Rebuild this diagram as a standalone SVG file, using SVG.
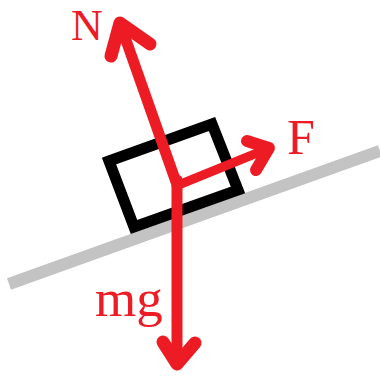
<svg xmlns="http://www.w3.org/2000/svg" width="380" height="377" viewBox="0 0 380 377">
<style>
.f{fill:none;stroke:#ed1c24;stroke-linecap:round;stroke-linejoin:round}
text{fill:#ed1c24;font-family:"Liberation Serif","Times New Roman",serif}
</style>
<rect width="380" height="377" fill="#fff"/>
<g id="incline"><path d="M9 284L380 151" fill="none" stroke="#c3c3c3" stroke-width="12"/></g>
<g id="block"><path d="M109 161L212 124L238 190L134 227Z" fill="none" stroke="#000" stroke-width="11" stroke-linejoin="miter"/></g>
<g id="connectors">
<path class="f" stroke-width="11" d="M176 182L121 26"/>
<path class="f" stroke-width="13" d="M111 56L120 23L150 44"/>
<path class="f" stroke-width="9" d="M176 186L262 151"/>
<path class="f" stroke-width="12" d="M247 141L269 148L256 170"/>
<path class="f" stroke-width="11" d="M177 180V360"/>
<path class="f" stroke-width="13" d="M163 342L177 364L195 343"/>
</g>
<g id="labels">
<text id="label-n" x="71" y="40" font-size="44">N</text>
<text id="label-f" x="287" y="154" font-size="50">F</text>
<text id="label-mg" x="95" y="316" font-size="53">mg</text>
</g>
</svg>
